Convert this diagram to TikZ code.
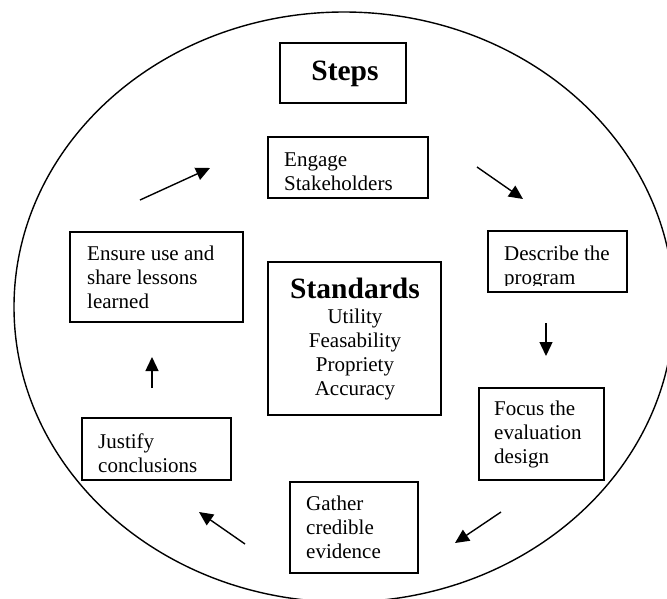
\documentclass[tikz,border=0pt]{standalone}
\usepackage{fontspec}
\setmainfont{Liberation Serif}
\usetikzlibrary{arrows.meta,shapes.geometric}
% stacked lines with a fixed line pitch; the node baseline is the first line
\newcommand{\leftlines}[1]{\vtop{\baselineskip=24pt\lineskiplimit=-20pt\halign{##\hfil\cr#1\crcr}}}
\newcommand{\centerlines}[1]{\vtop{\baselineskip=24pt\lineskiplimit=-20pt\halign{\hfil##\hfil\cr#1\crcr}}}
\begin{document}
\begin{tikzpicture}[x=1pt,y=-1pt,
  stepbox/.style={draw, line width=1.5pt, inner sep=0pt},
  steptext/.style={inner sep=0pt, anchor=base west, font=\fontsize{21pt}{24pt}\selectfont},
  headtext/.style={inner sep=0pt, anchor=base, font=\fontsize{29.5pt}{32pt}\selectfont\bfseries},
  flow/.style={line width=1.4pt, -{Triangle[length=14pt,width=13pt]}},
]
\useasboundingbox (0,0) rectangle (667,598);
\clip (0,0) rectangle (667,598);

% outer cycle
\node[draw, ellipse, line width=1.4pt, inner sep=0pt,
      minimum width=660pt, minimum height=590pt] (cycle) at (344,307) {};

% boxes
\node[stepbox, minimum width=126pt, minimum height=60pt]  (steps)     at (343,73) {};
\node[stepbox, minimum width=160pt, minimum height=61pt]  (engage)    at (348,167.5) {};
\node[stepbox, minimum width=173pt, minimum height=90pt]  (ensure)    at (156.5,277) {};
\node[stepbox, minimum width=173pt, minimum height=153pt] (standards) at (354.5,338.5) {};
\node[stepbox, minimum width=139pt, minimum height=61pt]  (describe)  at (557.5,261.5) {};
\node[stepbox, minimum width=125pt, minimum height=92pt]  (focus)     at (541.5,434) {};
\node[stepbox, minimum width=149pt, minimum height=62pt]  (justify)   at (156.5,449) {};
\node[stepbox, minimum width=128pt, minimum height=91pt]  (gather)    at (354,527.5) {};

% titles
\node[headtext] (steps-t) at (345,80) {Steps};
\node[headtext] (standards-t) at (355,298) {Standards};
\node[inner sep=0pt, anchor=base, font=\fontsize{21pt}{24pt}\selectfont] (standards-l) at (355,323)
  {\centerlines{Utility\cr Feasability\cr Propriety\cr Accuracy}};

% step labels
\node[steptext] (engage-t)  at (284,166) {\leftlines{Engage\cr Stakeholders}};
\node[steptext] (ensure-t)  at (87,260)  {\leftlines{Ensure use and\cr share lessons\cr learned}};
\begin{scope}
  \clip (489,232) rectangle (626,285);
  \node[steptext] (describe-t) at (504,260) {\leftlines{Describe the\cr program}};
\end{scope}
\node[steptext] (focus-t)   at (494,415) {\leftlines{Focus the\cr evaluation\cr design}};
\node[steptext] (justify-t) at (98,448)  {\leftlines{Justify\cr conclusions}};
\node[steptext] (gather-t)  at (306,510) {\leftlines{Gather\cr credible\cr evidence}};

% arrow ends
\coordinate (a1s) at (140,200); \coordinate (a1e) at (210,168);
\coordinate (a2s) at (477,167); \coordinate (a2e) at (523,199);
\coordinate (a3s) at (546,323); \coordinate (a3e) at (546,356);
\coordinate (a4s) at (501,512); \coordinate (a4e) at (455,543);
\coordinate (a5s) at (245,544); \coordinate (a5e) at (199,512);
\coordinate (a6s) at (152,388); \coordinate (a6e) at (152,357);

\draw[flow] (a1s) -- (a1e);
\draw[flow] (a2s) -- (a2e);
\draw[flow] (a3s) -- (a3e);
\draw[flow] (a4s) -- (a4e);
\draw[flow] (a5s) -- (a5e);
\draw[flow] (a6s) -- (a6e);
\end{tikzpicture}
\end{document}
